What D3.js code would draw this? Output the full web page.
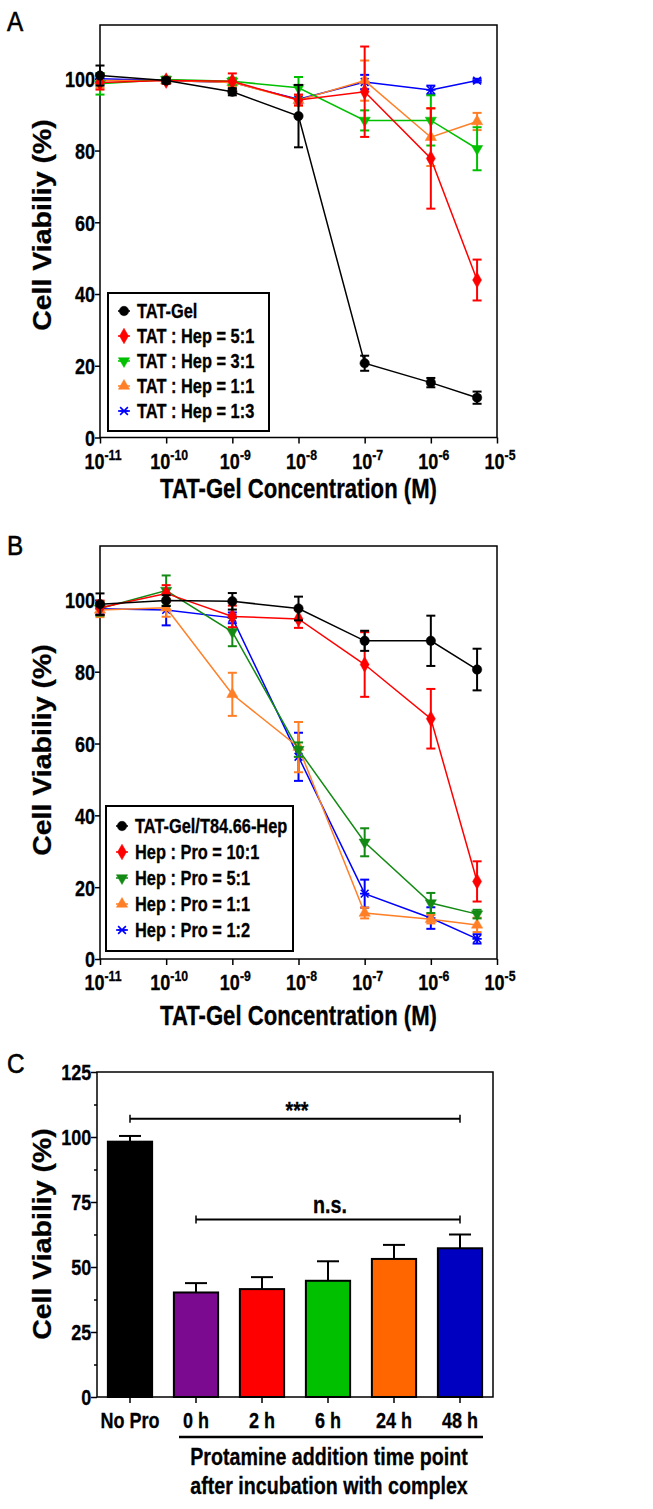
<!DOCTYPE html>
<html>
<head>
<meta charset="utf-8">
<script src="https://cdn.jsdelivr.net/npm/d3@7"></script>
<style>
  body { margin: 0; background: #fff; }
  svg text { font-family: "Liberation Sans", Arial, sans-serif; font-weight: bold; fill: #000; stroke: #000; stroke-width: 0.3px; }
</style>
</head>
<body>
<div id="main"></div>
<script>
// ---- data ----
const concentrations = [1e-11, 1e-10, 1e-9, 1e-8, 1e-7, 1e-6, 5e-6];
const decadeExponents = [-11, -10, -9, -8, -7, -6, -5];
const yTicksLine = [0, 20, 40, 60, 80, 100];

// panel A
const namesA = ['TAT-Gel', 'TAT : Hep = 5:1', 'TAT : Hep = 3:1', 'TAT : Hep = 1:1', 'TAT : Hep = 1:3'];
const meansA = [
  [100.9, 99.5, 96.4, 89.6, 20.7, 15.3, 11.1],
  [99.0, 99.5, 99.3, 94.1, 96.4, 77.8, 43.9],
  [98.6, 99.8, 99.3, 97.5, 88.4, 88.4, 80.5],
  [99.5, 99.5, 99.0, 94.0, 99.5, 83.7, 88.1],
  [100.0, 99.5, 99.0, 94.3, 99.1, 96.9, 99.5]
];
const errsA = [
  [2.8, 0.8, 1.0, 8.7, 2.1, 1.3, 1.7],
  [2.0, 0.8, 2.2, 1.5, 12.6, 14.0, 5.7],
  [3.0, 0.8, 1.0, 3.0, 2.8, 7.0, 6.0],
  [2.0, 0.8, 1.0, 1.5, 5.6, 8.0, 2.4],
  [1.5, 0.5, 0.8, 1.0, 2.0, 1.2, 0.5]
];

// panel B
const namesB = ['TAT-Gel/T84.66-Hep', 'Hep : Pro = 10:1', 'Hep : Pro = 5:1', 'Hep : Pro = 1:1', 'Hep : Pro = 1:2'];
const meansB = [
  [98.8, 99.8, 99.6, 97.6, 88.6, 88.6, 80.6],
  [97.8, 101.8, 95.4, 94.7, 82.0, 66.9, 21.6],
  [97.6, 102.6, 91.1, 58.3, 32.5, 15.6, 12.5],
  [97.2, 97.8, 73.7, 59.0, 12.8, 11.1, 9.5],
  [97.5, 97.2, 95.0, 56.3, 18.2, 11.4, 5.6]
];
const errsB = [
  [3.0, 1.5, 2.3, 3.3, 2.8, 7.0, 5.8],
  [2.0, 2.3, 3.0, 2.5, 9.0, 8.3, 5.6],
  [2.0, 4.2, 4.0, 2.0, 3.9, 2.8, 1.2],
  [2.0, 2.5, 6.0, 7.0, 1.5, 1.2, 2.0],
  [1.5, 4.3, 1.5, 6.7, 3.9, 3.0, 1.3]
];

// panel C
const barCategories = ['No Pro', '0 h', '2 h', '6 h', '24 h', '48 h'];
const barMeans = [98.2, 40.2, 41.5, 44.7, 53.1, 57.2];
const barErrs = [2.2, 3.6, 4.6, 7.5, 5.4, 5.3];
const yTicksBar = [0, 25, 50, 75, 100, 125];

// ---- styles ----
const lineColorsA = ['#000000', '#ff0000', '#00c000', '#ff7f27', '#0000ff'];
const lineColorsB = ['#000000', '#ff0000', '#138a13', '#ff7f27', '#0000ff'];
const barColors = ['#000000', '#7b0a91', '#ff0000', '#00c000', '#ff6600', '#0000c0'];
const SQ = 0.82; // horizontal squeeze of the original lettering

// asterisk-like marker (x plus horizontal bar)
const symbolStar = {
  draw(ctx, size) {
    const r = Math.sqrt(size) / 2;
    ctx.moveTo(-r, -r); ctx.lineTo(r, r);
    ctx.moveTo(-r, r); ctx.lineTo(r, -r);
    ctx.moveTo(-r * 1.2, 0); ctx.lineTo(r * 1.2, 0);
  }
};
const markerTypes = [d3.symbolCircle, d3.symbolDiamond, d3.symbolTriangle, d3.symbolTriangle, symbolStar];
const markerRotate = [0, 0, 180, 0, 0];
const markerSize = [70, 70, 55, 55, 60];

const W = 653, H = 1509;
const svg = d3.select('#main').append('svg').attr('width', W).attr('height', H);

// squeezed text placed at (x, y)
function sqText(parent, x, y, txt, size, anchor) {
  return parent.append('text')
    .attr('transform', `translate(${x},${y}) scale(${SQ},1)`)
    .attr('text-anchor', anchor || 'start')
    .style('font-size', size)
    .text(txt);
}

function panelLabel(txt, x, y) {
  svg.append('text').attr('transform', `translate(${x},${y}) scale(0.9,1)`)
    .style('font-size', '27px').style('font-weight', 'normal').style('stroke-width', '0.6px')
    .text(txt);
}

function yTitle(x, y) {
  svg.append('text')
    .attr('transform', `translate(${x},${y}) rotate(-90) scale(1,0.88)`)
    .attr('text-anchor', 'middle')
    .style('font-size', '28.5px')
    .text('Cell Viabiliy (%)');
}

function drawMarker(g, i, color) {
  g.append('path')
    .attr('d', d3.symbol().type(markerTypes[i]).size(markerSize[i])())
    .attr('transform', `rotate(${markerRotate[i]})`)
    .attr('fill', color)
    .attr('stroke', color)
    .attr('stroke-width', markerTypes[i] === symbolStar ? 1.6 : 0.5);
}

function linePanel(p) {
  const x = d3.scaleLog().domain([1e-11, 1e-5]).range([p.left, p.right]);
  const y = d3.scaleLinear().domain([0, 115]).range([p.bottom, p.top]);
  const g = svg.append('g');

  // frame
  g.append('rect').attr('x', p.left).attr('y', p.top)
    .attr('width', p.right - p.left).attr('height', p.bottom - p.top)
    .attr('fill', 'none').attr('stroke', '#000').attr('stroke-width', 1.5);

  // y axis
  const ya = g.append('g').attr('transform', `translate(${p.left},0)`)
    .call(d3.axisLeft(y).tickValues(yTicksLine).tickSize(5).tickPadding(1));
  ya.select('.domain').remove();
  ya.selectAll('line').attr('stroke-width', 1.5);
  ya.selectAll('text').style('font-size', '22px').attr('dy', '0.36em')
    .attr('transform', `scale(${SQ},1)`);

  // x axis with superscript labels
  const xa = g.append('g').attr('transform', `translate(0,${p.bottom})`)
    .call(d3.axisBottom(x).tickValues(decadeExponents.map(e => Math.pow(10, e))).tickSize(6).tickFormat(''));
  xa.select('.domain').remove();
  xa.selectAll('line').attr('stroke-width', 1.5);
  decadeExponents.forEach(e => {
    const t = sqText(g, x(Math.pow(10, e)) + 3, p.bottom + 31, '', '22px', 'middle');
    t.append('tspan').text('10');
    t.append('tspan').attr('dy', -9).style('font-size', '15px').text(String(e));
  });

  // x title
  sqText(g, (p.left + p.right) / 2, p.titleY, 'TAT-Gel Concentration (M)', '27px', 'middle');

  const line = d3.line().x((d, k) => x(concentrations[k])).y(d => y(d));

  // draw series from last to first so the first sits on top
  for (let i = p.means.length - 1; i >= 0; i--) {
    const c = p.colors[i];
    const sg = g.append('g');
    sg.append('path').attr('d', line(p.means[i]))
      .attr('fill', 'none').attr('stroke', c).attr('stroke-width', 1.5);
    p.means[i].forEach((m, k) => {
      const cx = x(concentrations[k]);
      const e = p.errs[i][k];
      sg.append('line').attr('x1', cx).attr('x2', cx).attr('y1', y(m - e)).attr('y2', y(m + e))
        .attr('stroke', c).attr('stroke-width', 2);
      [m - e, m + e].forEach(v => {
        sg.append('line').attr('x1', cx - 4.5).attr('x2', cx + 4.5).attr('y1', y(v)).attr('y2', y(v))
          .attr('stroke', c).attr('stroke-width', 2);
      });
      drawMarker(sg.append('g').attr('transform', `translate(${cx},${y(m)})`), i, c);
    });
  }

  // legend
  const lg = g.append('g');
  lg.append('rect').attr('x', p.legend.x).attr('y', p.legend.y)
    .attr('width', p.legend.w).attr('height', p.legend.h)
    .attr('fill', '#fff').attr('stroke', '#000').attr('stroke-width', 2);
  p.names.forEach((name, i) => {
    const ly = p.legend.y + p.legend.first + i * p.legend.step;
    const c = p.colors[i];
    lg.append('line').attr('x1', p.legend.x + 10).attr('x2', p.legend.x + 22)
      .attr('y1', ly).attr('y2', ly).attr('stroke', c).attr('stroke-width', 1.5);
    drawMarker(lg.append('g').attr('transform', `translate(${p.legend.x + 16},${ly})`), i, c);
    sqText(lg, p.legend.x + 29, ly + 7, name, '20px');
  });
}

// ---- panel A ----
panelLabel('A', 7, 31);
yTitle(51, 225);
linePanel({
  left: 100, right: 497, top: 25, bottom: 437.5, titleY: 498,
  names: namesA, means: meansA, errs: errsA, colors: lineColorsA,
  legend: { x: 108, y: 293, w: 161, h: 138, first: 18, step: 25 }
});

// ---- panel B ----
panelLabel('B', 7, 555);
yTitle(51, 750);
linePanel({
  left: 100, right: 497, top: 546, bottom: 959, titleY: 1025,
  names: namesB, means: meansB, errs: errsB, colors: lineColorsB,
  legend: { x: 106, y: 806, w: 187, h: 145, first: 20, step: 26 }
});

// ---- panel C ----
panelLabel('C', 7, 1073);
yTitle(51, 1234);
(function barPanel() {
  const left = 97, right = 493, top = 1072, bottom = 1397;
  const x = d3.scaleBand().domain(barCategories).range([left, right]).paddingInner(0.33).paddingOuter(0.165);
  const y = d3.scaleLinear().domain([0, 125]).range([bottom, top]);
  const g = svg.append('g');

  g.append('rect').attr('x', left).attr('y', top).attr('width', right - left).attr('height', bottom - top)
    .attr('fill', 'none').attr('stroke', '#000').attr('stroke-width', 1.5);

  const ya = g.append('g').attr('transform', `translate(${left},0)`)
    .call(d3.axisLeft(y).tickValues(yTicksBar).tickSize(6).tickPadding(1));
  ya.select('.domain').remove();
  ya.selectAll('line').attr('stroke-width', 1.5);
  ya.selectAll('text').style('font-size', '22px').attr('dy', '0.36em')
    .attr('transform', `scale(${SQ},1)`);
  const yMinor = g.append('g').attr('transform', `translate(${left},0)`)
    .call(d3.axisLeft(y).tickValues(yTicksBar.slice(0, -1).map(v => v + 12.5)).tickSize(3).tickFormat(''));
  yMinor.select('.domain').remove();
  yMinor.selectAll('line').attr('stroke-width', 1.5);

  const xa = g.append('g').attr('transform', `translate(0,${bottom})`)
    .call(d3.axisBottom(x).tickSize(6).tickPadding(4));
  xa.select('.domain').remove();
  xa.selectAll('line').attr('stroke-width', 1.5);
  xa.selectAll('text').style('font-size', '22px').attr('dy', '0.95em')
    .attr('transform', `scale(${SQ},1)`);

  // error bars (upper only) then bars
  barCategories.forEach((c, i) => {
    const cx = x(c) + x.bandwidth() / 2;
    g.append('line').attr('x1', cx).attr('x2', cx).attr('y1', y(barMeans[i])).attr('y2', y(barMeans[i] + barErrs[i]))
      .attr('stroke', '#000').attr('stroke-width', 2);
    g.append('line').attr('x1', cx - 11).attr('x2', cx + 11)
      .attr('y1', y(barMeans[i] + barErrs[i])).attr('y2', y(barMeans[i] + barErrs[i]))
      .attr('stroke', '#000').attr('stroke-width', 2);
  });
  g.selectAll('rect.bar').data(barMeans).enter().append('rect').attr('class', 'bar')
    .attr('x', (d, i) => x(barCategories[i]))
    .attr('y', d => y(d))
    .attr('width', x.bandwidth())
    .attr('height', d => y(0) - y(d))
    .attr('fill', (d, i) => barColors[i])
    .attr('stroke', '#000').attr('stroke-width', 2);

  // significance brackets
  function bracket(c1, c2, v, label, size, dyLabel) {
    const x1 = x(c1) + x.bandwidth() / 2, x2 = x(c2) + x.bandwidth() / 2;
    g.append('line').attr('x1', x1).attr('x2', x2).attr('y1', y(v)).attr('y2', y(v))
      .attr('stroke', '#000').attr('stroke-width', 2);
    [x1, x2].forEach(xx => g.append('line').attr('x1', xx).attr('x2', xx)
      .attr('y1', y(v) - 4).attr('y2', y(v) + 4).attr('stroke', '#000').attr('stroke-width', 1.5));
    sqText(g, (x1 + x2) / 2 + 2, y(v) + dyLabel, label, size, 'middle');
  }
  bracket('No Pro', '48 h', 107, '***', '24px', 0);
  bracket('0 h', '48 h', 68.3, 'n.s.', '24px', -6);

  // group underline and caption
  g.append('line').attr('x1', 179).attr('x2', 483).attr('y1', 1437).attr('y2', 1437)
    .attr('stroke', '#000').attr('stroke-width', 2.5);
  sqText(g, 329, 1465, 'Protamine addition time point', '24px', 'middle');
  sqText(g, 329, 1494, 'after incubation with complex', '24px', 'middle');
})();
</script>
</body>
</html>
